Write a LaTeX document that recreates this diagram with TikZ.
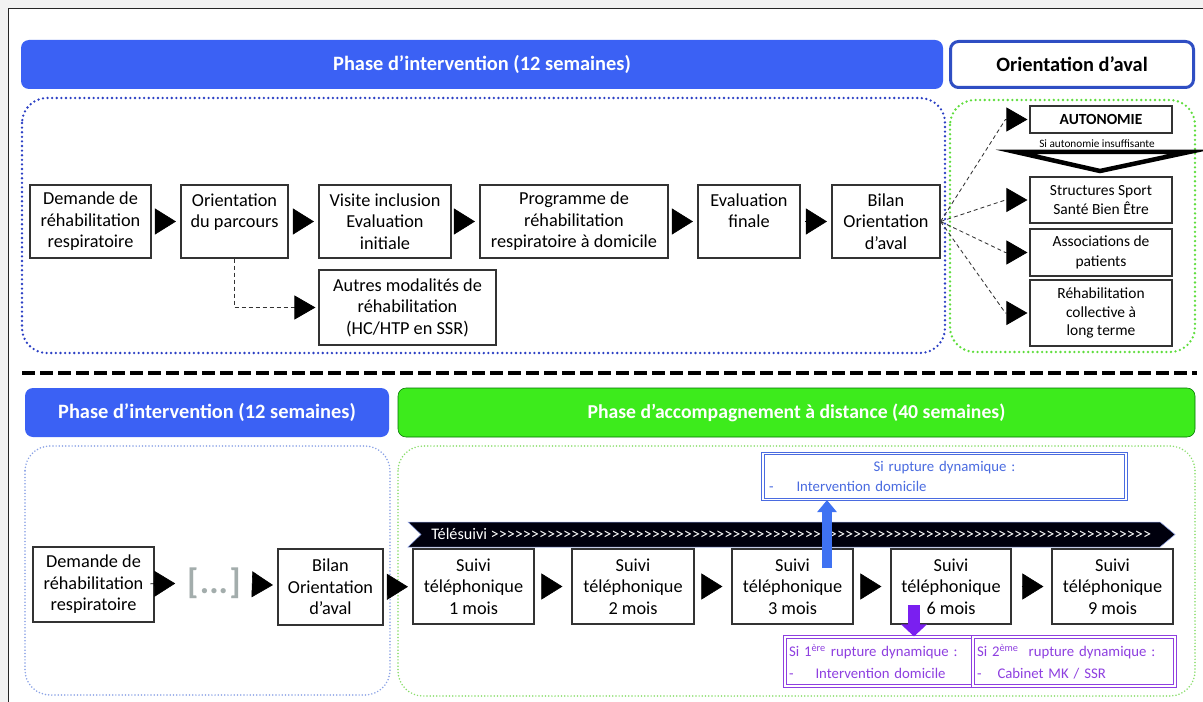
\documentclass[tikz,border=0pt]{standalone}
\usepackage{fontspec}
\setmainfont{Carlito}
\usetikzlibrary{arrows.meta,calc}
\newlength\pxl
\setlength\pxl{0.025cm}
\definecolor{hdrblue}{HTML}{3B61F4}
\definecolor{hdrgreen}{HTML}{3DEB1C}
\definecolor{dotblue}{HTML}{2B3FC4}
\definecolor{dotgreen}{HTML}{5EDD3C}
\definecolor{softblue}{HTML}{8AA2E6}
\definecolor{softgreen}{HTML}{88DD6A}
\definecolor{rupblue}{HTML}{4A6BE0}
\definecolor{ruppurple}{HTML}{8E3FE0}
\definecolor{arrpurple}{HTML}{7A1FF0}
\definecolor{arrblue}{HTML}{3F72F2}
\definecolor{dotsgray}{HTML}{A3ADAC}
\tikzset{
  box/.style={draw=black!80, line width=0.8pt, fill=white, align=center, inner sep=0pt,
    minimum height=73\pxl, font=\fontsize{13}{15.3}\selectfont},
  sidebox/.style={box, minimum width=142\pxl, font=\fontsize{11}{14}\selectfont},
  hdr/.style={rounded corners=8\pxl, fill=hdrblue, text=white, inner sep=0pt,
    minimum height=49\pxl, font=\fontsize{14.5}{17}\selectfont\bfseries},
  tri/.style={-{Triangle[length=0.525cm,width=0.65cm]}, line width=0.4pt,
    shorten <=4.5\pxl, shorten >=4.5\pxl},
  fan/.style={-{Triangle[length=0.525cm,width=0.6cm,color=black]}, black!80, line width=0.6pt,
    dash pattern=on 0.1cm off 0.075cm, shorten >=2\pxl},
  bigdots/.style={rounded corners=25\pxl, line width=2.6\pxl, line cap=round,
    dash pattern=on 0pt off 0.115cm},
  smalldots/.style={rounded corners=25\pxl, line width=1.7\pxl, line cap=round,
    dash pattern=on 0pt off 0.08cm},
  rbox/.style={draw=#1, double=white, double distance=1.2\pxl, line width=1.1\pxl,
    fill=white, inner xsep=4\pxl, inner ysep=0pt, text=#1, align=left,
    font=\fontsize{10.5}{15.4}\selectfont},
  bigarrow/.style={draw=#1, line width=10\pxl, -{Triangle[length=0.3cm,width=0.475cm]}}
}
\begin{document}
\begin{tikzpicture}[x=0.025cm, y=-0.025cm]
% Frame
\useasboundingbox (0,0) rectangle (1203,702);
\clip (0,0) rectangle (1203,702);
\fill[black!5] (0,0) rectangle (1203,702);
\draw[fill=white, draw=black!85, line width=0.6pt] (8,8) rectangle (1230,730);

% Top headers
\node(h1)[hdr, minimum width=922\pxl] at (482,64.5) {Phase d’intervention (12 semaines)};
\node(h2)[hdr, fill=white, text=black, draw=hdrblue!80!black, line width=3\pxl,
  minimum width=243\pxl, minimum height=46\pxl] at (1072,64.5) {Orientation d’aval};
\draw[bigdots, dotblue] (22,98) rectangle (945,353);
\draw[bigdots, dotgreen] (950,100) rectangle (1195,352);

% Top row
\node(a1)[box, minimum width=121\pxl] at (90.5,221.5) {Demande de\\réhabilitation\\respiratoire};
\node(a2)[box, minimum width=107\pxl] at (234.5,221.5) {Orientation\\du parcours\\\mbox{}};
\node(a3)[box, minimum width=132\pxl] at (385,221.5) {Visite inclusion\\Evaluation\\initiale};
\node(a4)[box, minimum width=188\pxl] at (574,221.5) {Programme de\\réhabilitation\\respiratoire à domicile};
\node(a5)[box, minimum width=102\pxl] at (749,221.5) {Evaluation\\finale\\\mbox{}};
\node(a6)[box, minimum width=108\pxl] at (886,221.5) {Bilan\\Orientation\\d’aval};
\node(b)[box, minimum width=177\pxl, minimum height=75\pxl] at (407.5,307.5) {Autres modalités de\\réhabilitation\\(HC/HTP en SSR)};
\draw[tri] (a1) -- (a2);
\draw[tri] (a2) -- (a3);
\draw[tri] (a3) -- (a4);
\draw[tri] (a4) -- (a5);
\draw[tri] (a5) -- (a6);
\draw[fan, shorten >=3\pxl] (a2.south) |- (b.west);

% Orientation d'aval
\node(aut)[sidebox, minimum height=27\pxl, font=\fontsize{11}{13}\selectfont\bfseries] at (1101,119.5) {AUTONOMIE};
\node(note)[font=\fontsize{8}{9}\selectfont, inner sep=0pt] at (1097,144) {Si autonomie insuffisante};
\draw[line width=4.5\pxl, line join=miter, fill=white] (1016,152) -- (1189,152) -- (1100,171) -- cycle;
\node(r1)[sidebox, minimum height=46\pxl] at (1101,200) {Structures Sport\\Santé Bien Être};
\node(r2)[sidebox, minimum height=47\pxl] at (1101,252.5) {Associations de\\patients};
\node(r3)[sidebox, minimum height=66\pxl, font=\fontsize{11}{13.3}\selectfont] at (1101,313) {Réhabilitation\\collective à\\long terme};
\foreach \t in {aut,r1,r2,r3}
  \draw[fan] (a6.east) -- ($(\t.west)+(-24,0)$) -- (\t.west);

% Separator
\draw[line width=4\pxl, dash pattern=on 0.3175cm off 0.1325cm] (22,373) -- (1197,373);

% Bottom headers
\node(h3)[hdr, minimum width=364\pxl] at (207,412.5) {Phase d’intervention (12 semaines)};
\node(h4)[hdr, fill=hdrgreen, draw=green!45!black, line width=0.4pt, minimum width=797\pxl,
  font=\fontsize{14}{17}\selectfont\bfseries] at (796.5,412.5) {Phase d’accompagnement à distance (40 semaines)};
\draw[smalldots, softblue] (25,446) rectangle (390,695);
\draw[smalldots, softgreen] (398,446) rectangle (1195,696);

% Bottom row
\node(d1)[box, minimum width=121\pxl, minimum height=75\pxl] at (93.5,584.5) {Demande de\\réhabilitation\\respiratoire};
\node(dots)[text=dotsgray, inner sep=0pt, minimum width=68\pxl, font=\fontsize{25}{27}\selectfont\bfseries] at (214,583) {[\kern1pt...\kern1pt]};
\node(d2)[box, minimum width=105\pxl, minimum height=76\pxl] at (330.5,587) {Bilan\\Orientation\\d’aval};
\draw[tri] (d1) -- (dots);
\draw[tri] (dots) -- (d2);

% Telesuivi
\fill[black!95!blue, draw=rupblue!60, line width=0.5\pxl] (408,522) -- (1160,522) -- (1175,534.5)
  -- (1160,547) -- (408,547) -- (421,534.5) -- cycle;
\node(tele)[anchor=west, text=white, inner sep=0pt, font=\fontsize{11.5}{13}\selectfont]
  at (431,534) {Télésuivi \foreach \i in {1,...,82}{\mbox{>}}};

\node(s1)[box, minimum width=121\pxl, minimum height=75\pxl] at (473.5,586.5) {Suivi\\téléphonique\\1 mois};
\node(s2)[box, minimum width=122\pxl, minimum height=75\pxl] at (633,586.5) {Suivi\\téléphonique\\2 mois};
\node(s3)[box, minimum width=121\pxl, minimum height=75\pxl] at (792.5,586.5) {Suivi\\téléphonique\\3 mois};
\node(s4)[box, minimum width=120\pxl, minimum height=75\pxl] at (951,586.5) {Suivi\\téléphonique\\6 mois};
\node(s5)[box, minimum width=121\pxl, minimum height=75\pxl] at (1112.5,586.5) {Suivi\\téléphonique\\9 mois};
\draw[tri] (d2) -- (s1);
\draw[tri, shorten <=7\pxl, shorten >=9\pxl] (s1) -- (s2);
\draw[tri, shorten <=7\pxl, shorten >=9\pxl] (s2) -- (s3);
\draw[tri, shorten <=7\pxl, shorten >=9\pxl] (s3) -- (s4);
\draw[tri, shorten <=10\pxl, shorten >=8\pxl] (s4) -- (s5);

% Ruptures
\node(rup)[rbox=rupblue, minimum width=363\pxl, minimum height=46\pxl, text width=351\pxl,
  font=\fontsize{10.5}{14.7}\selectfont] at (944.5,476.5)
  {\makebox[351\pxl]{Si rupture dynamique :}\\-\hspace{23\pxl}Intervention domicile};
\coordinate (s3in) at (827,568);
\draw[bigarrow=arrblue] (s3in) -- (s3in |- rup.south);

\node(p1)[rbox=ruppurple, minimum width=188\pxl, minimum height=49\pxl, text width=180\pxl] at (879,661.5)
  {Si 1\textsuperscript{ère} rupture dynamique :\\-\hspace{22\pxl}Intervention domicile};
\node(p2)[rbox=ruppurple, minimum width=202\pxl, minimum height=49\pxl, text width=194\pxl] at (1074,661.5)
  {Si 2\textsuperscript{ème}\ \ rupture dynamique :\\-\hspace{16\pxl}Cabinet MK / SSR};
\coordinate (s4in) at (914,605);
\draw[bigarrow=arrpurple, line width=12\pxl, -{Triangle[length=0.3cm,width=0.625cm]}] (s4in) -- (s4in |- p1.north);
\end{tikzpicture}
\end{document}
